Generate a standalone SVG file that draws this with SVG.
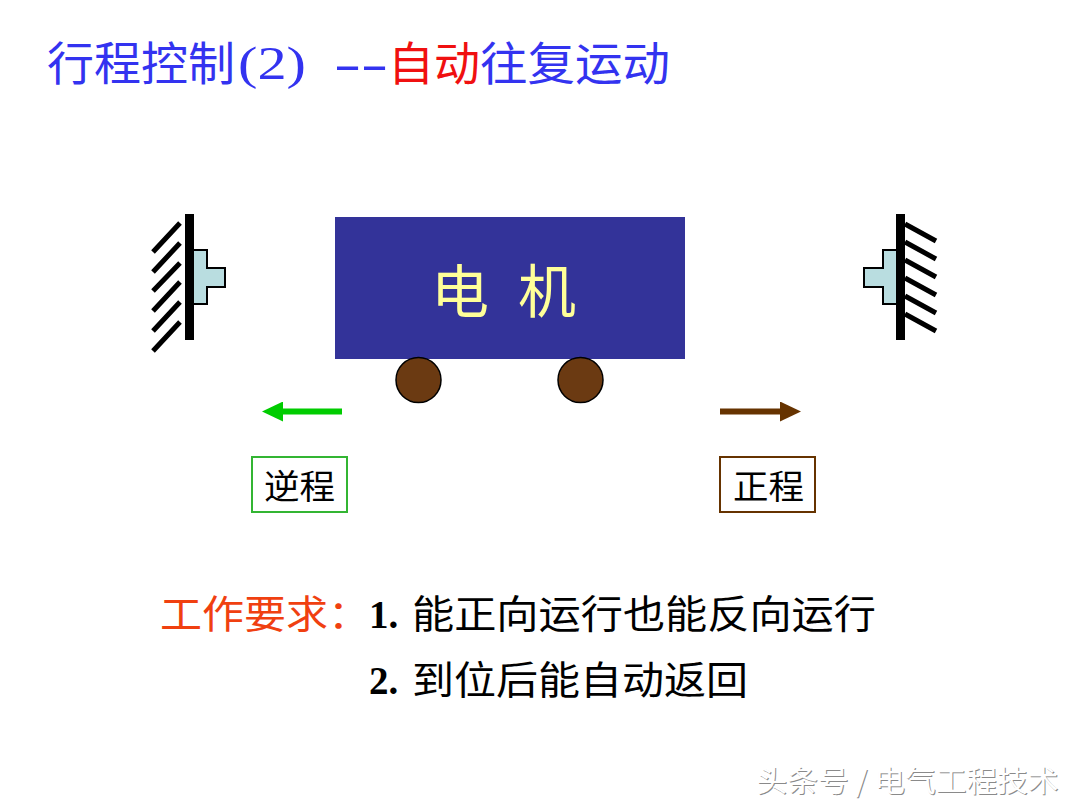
<svg xmlns="http://www.w3.org/2000/svg" width="1080" height="810" viewBox="0 0 1080 810">
<defs>
<style>
text{font-family:"Noto Sans CJK SC","Noto Sans CJK JP",sans-serif}
.title{font-size:46px;fill:#3333f0}
.red{fill:#f01010}
.latin{font-family:"Liberation Serif",serif}
.hatch{stroke:#000;stroke-width:5;fill:none}
.bar{fill:#000}
.stop{fill:#b9dde0;stroke:#000;stroke-width:2}
.wheel{fill:#6b3a12;stroke:#000;stroke-width:1.500}
.req{font-size:39px;fill:#000}
.orange{fill:#f04010}
.num{font-family:"Liberation Serif",serif;font-weight:bold;font-size:39px;fill:#000}
.dir{font-size:34px;fill:#000}
.wm{font-size:29px}
.motor{font-size:58px;fill:#ffff99}
</style>
<marker id="ag" markerUnits="userSpaceOnUse" markerWidth="22" markerHeight="20" refX="11" refY="10" orient="auto"><path d="M0 0L21 10L0 20Z" fill="#00cc00"/></marker>
<marker id="ab" markerUnits="userSpaceOnUse" markerWidth="22" markerHeight="20" refX="11" refY="10" orient="auto"><path d="M0 0L21 10L0 20Z" fill="#663300"/></marker>
</defs>
<rect width="1080" height="810" fill="#fff"/>
<g id="title">
<text class="title" x="47" y="80" textLength="188" lengthAdjust="spacingAndGlyphs">行程控制</text>
<text class="title latin" x="238" y="79" textLength="68" lengthAdjust="spacingAndGlyphs">(2)</text>
<text class="title latin" x="334" y="79" textLength="54" lengthAdjust="spacingAndGlyphs">--</text>
<text class="title red" x="388" y="80" textLength="92" lengthAdjust="spacingAndGlyphs">自动</text>
<text class="title" x="480" y="80" textLength="190" lengthAdjust="spacingAndGlyphs">往复运动</text>
</g>
<g id="left-stop">
<path class="stop" d="M193 250H207V268H225V287H207V304H193Z"/>
<rect class="bar" x="185" y="214" width="9" height="126"/>
<path class="hatch" d="M180 223L153 252M180 243L153 272M180 263L153 291M180 282L153 311M180 302L153 331M180 322L153 351"/>
</g>
<g id="right-stop">
<path class="stop" d="M897 250H883V268H864V287H883V304H897Z"/>
<rect class="bar" x="896" y="214" width="9" height="126"/>
<path class="hatch" d="M905 224L936 241M905 242L936 259M905 260L936 277M905 278L936 295M905 296L936 313M905 314L936 331"/>
</g>
<g id="motor">
<rect x="335" y="217" width="350" height="142" fill="#333399"/>
<text class="motor" x="431" y="313">电</text>
<text class="motor" x="518" y="313">机</text>
</g>
<g id="wheel-left"><circle class="wheel" cx="418.500" cy="380" r="22.500"/></g>
<g id="wheel-right"><circle class="wheel" cx="580.500" cy="380" r="22.500"/></g>
<g id="connectors">
<path d="M342 411.500H272" stroke="#00cc00" stroke-width="6" fill="none" marker-end="url(#ag)"/>
<path d="M720 411.500H791" stroke="#663300" stroke-width="6" fill="none" marker-end="url(#ab)"/>
</g>
<g id="reverse-label">
<rect x="252" y="457" width="95" height="55" fill="#fff" stroke="#33b533" stroke-width="2"/>
<text class="dir" x="264" y="499" textLength="71" lengthAdjust="spacingAndGlyphs">逆程</text>
</g>
<g id="forward-label">
<rect x="720" y="457" width="95" height="55" fill="#fff" stroke="#663300" stroke-width="2"/>
<text class="dir" x="733" y="499" textLength="71" lengthAdjust="spacingAndGlyphs">正程</text>
</g>
<g id="requirements">
<text class="req orange" x="160" y="628" textLength="210" lengthAdjust="spacingAndGlyphs">工作要求：</text>
<text class="num" x="369" y="628">1.</text>
<text class="req" x="412" y="628" textLength="464" lengthAdjust="spacingAndGlyphs">能正向运行也能反向运行</text>
<text class="num" x="369" y="694">2.</text>
<text class="req" x="412" y="694" textLength="336" lengthAdjust="spacingAndGlyphs">到位后能自动返回</text>
</g>
<g id="watermark">
<text class="wm" x="757.500" y="792.500" fill="#8a8a8a" textLength="302" lengthAdjust="spacingAndGlyphs">头条号 / 电气工程技术</text>
<text class="wm" x="756.500" y="791.500" fill="#fff" textLength="302" lengthAdjust="spacingAndGlyphs">头条号 / 电气工程技术</text>
</g>
</svg>
